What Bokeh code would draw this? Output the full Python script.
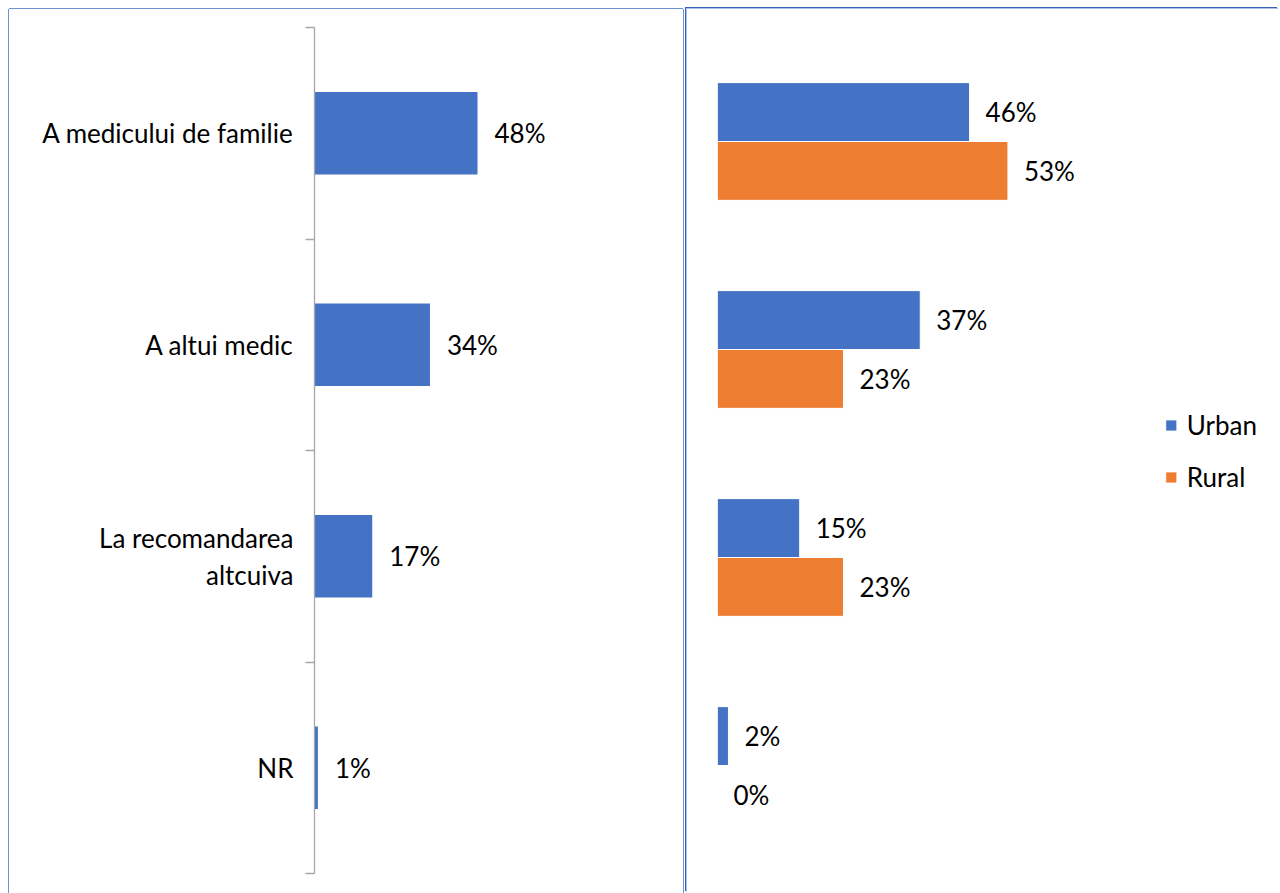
from bokeh.plotting import figure
from bokeh.layouts import row
from bokeh.models import Range1d, FixedTicker, ColumnDataSource, Legend, LegendItem
from bokeh.transform import dodge
from bokeh.core.properties import value
from bokeh.embed import file_html
from bokeh.resources import INLINE

# ---------------- data ----------------
categories = ["A medicului de familie", "A altui medic", "La recomandarea\naltcuiva", "NR"]
total_values = [48, 34, 17, 1]
urban_values = [46, 37, 15, 2]
rural_values = [53, 23, 23, 0]
series_names = ["Urban", "Rural"]

BLUE = "#4472C4"
ORANGE = "#ED7D31"
AXIS_GRAY = "#A6A6A6"
FONT = "Lato"
FS = "26px"

n = len(categories)
centers = [n - i - 0.5 for i in range(n)]
boundaries = [float(i) for i in range(n + 1)]

# ---------------- left panel (single series) ----------------
H = 884
W1 = 674
frame_left1 = 305
px_per_cat1 = 211.5
top_pad1, bot_pad1 = 18, 20
px_per_pct1 = 3.396

p1 = figure(width=W1, height=H, output_backend="svg", toolbar_location=None,
            x_range=Range1d(0, (W1 - frame_left1) / px_per_pct1),
            y_range=Range1d(-bot_pad1 / px_per_cat1, n + top_pad1 / px_per_cat1),
            x_axis_location=None,
            min_border_left=frame_left1, min_border_right=0, min_border_top=0, min_border_bottom=0)
p1.grid.visible = False
p1.outline_line_color = None
p1.margin = (9, 0, 0, 9)
p1.styles = {"box-shadow": "-1px 0 0 0 #7092D2, 1px 0 0 0 #7092D2, 0 -1px 0 0 #7092D2"}

ax = p1.yaxis[0]
ax.bounds = (0, n)
ax.ticker = FixedTicker(ticks=centers, minor_ticks=boundaries)
ax.major_label_overrides = {c: lab for c, lab in zip(centers, categories)}
ax.major_tick_out = 0
ax.major_tick_in = 0
ax.minor_tick_out = 9
ax.minor_tick_in = 0
ax.minor_tick_line_color = AXIS_GRAY
ax.axis_line_color = AXIS_GRAY
ax.axis_line_width = 1.3
ax.minor_tick_line_width = 1.3
ax.major_label_standoff = 12
ax.major_label_text_font = FONT
ax.major_label_text_font_size = FS
ax.major_label_text_color = "black"
ax.major_label_text_line_height = 1.15

src1 = ColumnDataSource(dict(y=centers, v=total_values, lab=[f"{v}%" for v in total_values]))
p1.hbar(y="y", right="v", left=0, height=0.39, source=src1, fill_color=BLUE, line_color=None)
p1.text(x="v", y="y", text="lab", source=src1, x_offset=17, text_baseline="middle",
        text_font=value(FONT), text_font_size=FS, text_color="black")

# ---------------- right panel (Urban / Rural) ----------------
W2 = 592
frame_left2 = 30
px_per_cat2 = 208
top_pad2, bot_pad2 = 28, 24
px_per_pct2 = 5.48

p2 = figure(width=W2, height=H, output_backend="svg", toolbar_location=None,
            x_range=Range1d(0, (W2 - frame_left2) / px_per_pct2),
            y_range=Range1d(-bot_pad2 / px_per_cat2, n + top_pad2 / px_per_cat2),
            x_axis_location=None, y_axis_location=None,
            min_border_left=frame_left2, min_border_right=0, min_border_top=0, min_border_bottom=0)
p2.grid.visible = False
p2.outline_line_color = None
p2.margin = (9, 0, 0, 4)
p2.styles = {"box-shadow": "-1px -1px 0 0 #A9C0EA, -2px -2px 0 0 #3A62B0"}

src2 = ColumnDataSource(dict(y=centers, u=urban_values, r=rural_values,
                             ul=[f"{v}%" for v in urban_values],
                             rl=[f"{v}%" for v in rural_values]))
bw = 0.283
ru = p2.hbar(y=dodge("y", bw / 2, range=p2.y_range), right="u", left=0, height=bw, source=src2,
             fill_color=BLUE, line_color="white", line_width=1)
rr = p2.hbar(y=dodge("y", -bw / 2, range=p2.y_range), right="r", left=0, height=bw, source=src2,
             fill_color=ORANGE, line_color="white", line_width=1)
p2.text(x="u", y=dodge("y", bw / 2, range=p2.y_range), text="ul", source=src2, x_offset=16,
        text_baseline="middle", text_font=value(FONT), text_font_size=FS, text_color="black")
p2.text(x="r", y=dodge("y", -bw / 2, range=p2.y_range), text="rl", source=src2, x_offset=16,
        text_baseline="middle", text_font=value(FONT), text_font_size=FS, text_color="black")

legend = Legend(items=[LegendItem(label=series_names[0], renderers=[ru]),
                       LegendItem(label=series_names[1], renderers=[rr])],
                location="center_right", glyph_width=14, glyph_height=14,
                label_text_font=FONT, label_text_font_size=FS, label_text_color="black",
                label_standoff=9, spacing=20, padding=0, margin=22,
                border_line_color=None, background_fill_alpha=0)
p2.add_layout(legend)

layout = row(p1, p2, spacing=0)
open("out.html", "w").write(file_html(layout, INLINE))
